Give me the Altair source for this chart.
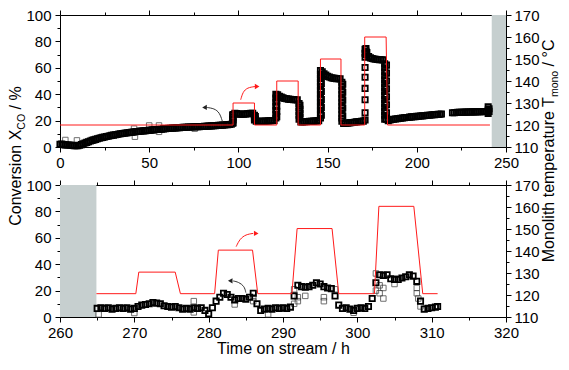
import altair as alt
import pandas as pd

FONT = "Liberation Sans"
RED = "#ff1a1a"
GREY = "#c6cfcf"
W, H = 446, 132

# ---------------- top panel: 0-250 h ----------------
drift_t = [0, 1, 2, 3, 4, 5, 6, 7, 8, 9, 10, 11, 12, 13, 14, 15, 16, 17, 18, 19,
           20, 21, 22, 23, 24, 25, 26, 27, 28, 29, 30, 31, 32, 33, 34, 35, 36, 37, 38, 39,
           40, 41, 42, 43, 44, 45, 46, 47, 48, 49, 50, 51, 52, 53, 54, 55, 56, 57, 58, 59,
           60, 61, 62, 63, 64, 65, 66, 67, 68, 69, 70, 71, 72, 73, 74, 75, 76, 77, 78, 79,
           80, 81, 82, 83, 84, 85, 86, 87, 88, 89, 90, 91, 92, 93, 94, 95, 96]
drift_x = [2.0, 2.2, 1.8, 1.6, 1.5, 1.5, 1.3, 1.2, 1.0, 1.0, 1.0, 1.3, 1.8, 2.4, 3.0, 3.5, 4.0, 4.5, 5.0, 5.4,
           5.8, 6.2, 6.6, 7.0, 7.3, 7.6, 7.9, 8.2, 8.5, 8.8, 9.0, 9.3, 9.5, 9.8, 10.0, 10.2, 10.4, 10.6, 10.8, 11.0,
           11.2, 11.3, 11.5, 11.7, 11.8, 12.0, 12.1, 12.2, 12.4, 12.5, 12.6, 12.8, 13.0, 13.1, 13.2, 13.3, 13.4, 13.5, 13.7, 13.8,
           14.0, 14.1, 14.2, 14.3, 14.4, 14.5, 14.6, 14.7, 14.8, 14.9, 15.0, 15.0, 15.1, 15.2, 15.2, 15.3, 15.3, 15.4, 15.4, 15.5,
           15.5, 15.6, 15.7, 15.8, 15.9, 16.0, 16.1, 16.2, 16.3, 16.4, 16.5, 16.6, 16.7, 16.8, 16.9, 17.0, 17.2]

step1_t = [96.8, 96.8, 96.8, 97, 97, 97, 97, 98, 99, 100, 101, 102, 103, 104, 105, 106, 107, 108,
           109, 109, 109, 109.5, 109.5]
step1_x = [18, 21, 24, 18.5, 20.5, 22.5, 24.5, 25.5, 25.3, 25.0, 24.8, 24.8, 24.9, 25.0, 25.2, 25.3, 25.5, 25.6,
           24, 22, 20.5, 23, 21]

base1_t = [110, 111, 112, 113, 114, 115, 116, 117, 118, 119, 120]
base1_x = [19.5, 19.4, 19.4, 19.5, 19.5, 19.6, 19.7, 19.8, 19.9, 20.0, 20.1]

step2_t = [121, 121, 121, 121, 121, 121, 121, 121.5, 121.5, 121.5, 121.5, 121.5,
           122, 123, 124, 125, 126, 127, 128, 129, 130, 131, 132, 133,
           134, 134, 134, 134, 134, 134.5, 134.5, 134.5, 134.5]
step2_x = [22, 25, 28, 31, 34, 37, 40, 23, 27, 31, 35, 39,
           39.5, 38.5, 37.8, 37.2, 36.8, 36.5, 36.3, 36.1, 36.0, 35.9, 35.8, 35.7,
           33, 30, 27, 24, 21, 31.5, 28.5, 25.5, 22.5]

base2_t = [135, 136, 137, 138, 139, 140, 141, 142, 143, 144, 145]
base2_x = [19.0, 19.0, 19.1, 19.2, 19.3, 19.4, 19.5, 19.6, 19.7, 19.8, 20.0]

step3_t = [146, 146, 146, 146, 146, 146, 146, 146, 146, 146, 146, 146, 146,
           146.5, 146.5, 146.5, 146.5, 146.5, 146.5,
           147, 148, 149, 150, 151, 152, 153, 154, 155, 156, 157,
           158, 158, 158, 158, 158, 158, 158, 158, 158, 158, 158,
           158.5, 158.5, 158.5, 158.5, 158.5]
step3_x = [22, 25, 28, 31, 34, 37, 40, 43, 46, 49, 52, 55, 58,
           24, 30, 36, 42, 48, 54,
           57.0, 55.5, 54.5, 53.5, 53.0, 52.5, 52.2, 52.0, 51.8, 51.7, 51.6,
           49, 46, 43, 40, 37, 34, 31, 28, 25, 22, 19.5,
           47.5, 41.5, 35.5, 29.5, 23.5]

base3_t = [159, 160, 161, 162, 163, 164, 165, 166, 167, 168, 169, 170]
base3_x = [17.8, 18.0, 18.1, 18.3, 18.5, 18.6, 18.8, 19.0, 19.1, 19.3, 19.5, 19.6]

step4_t = [171, 171, 171, 171, 171, 171, 171, 171, 171, 171.5, 171.5, 171.5,
           172, 173, 174, 175, 176, 177, 178, 179, 180, 181,
           182, 182, 182, 182, 182, 182, 182, 182, 182, 182, 182, 182, 182, 182, 182,
           183, 183, 183, 183, 183, 183, 183, 183]
step4_x = [20.5, 26, 35.8, 44.4, 52.9, 60.2, 68, 71, 74, 74.5, 72.5, 70,
           71.5, 68.5, 67.5, 67.0, 66.7, 66.5, 66.3, 66.2, 66.1, 66.0,
           63, 60, 57, 54, 51, 48, 45, 42, 39, 36, 33, 30, 27, 24, 21,
           62, 56, 50, 44, 38, 32, 26, 21]

late1_t = [184, 185, 186, 187, 188, 189, 190, 191, 192, 193, 194, 195, 196, 197, 198, 199,
           200, 201, 202, 203, 204, 205, 206, 207, 208, 209, 210, 211, 212, 213, 213.8]
late1_x = [20.0, 20.5, 20.8, 21.0, 21.2, 21.4, 21.6, 21.8, 22.0, 22.1, 22.3, 22.4, 22.6, 22.8, 22.9, 23.0,
           23.2, 23.3, 23.5, 23.6, 23.7, 23.9, 24.0, 24.1, 24.2, 24.4, 24.5, 24.6, 24.7, 24.8, 25.0]

late2_t = [220, 221, 222, 223, 224, 225, 226, 227, 228, 229, 230, 231, 232, 233, 234, 235,
           236, 237, 238, 239, 240, 240, 240, 240.5, 240.5]
late2_x = [26.0, 26.0, 26.1, 26.2, 26.2, 26.3, 26.3, 26.4, 26.4, 26.5, 26.5, 26.6, 26.6, 26.6, 26.7, 26.7,
           26.8, 26.8, 26.9, 26.9, 25.5, 28, 30.5, 27, 29]

top_out_t = [3, 9.5, 41.5, 42, 50, 55.5, 55.5, 75.5]
top_out_x = [5.3, 5.0, 13.9, 7.8, 16.3, 16.3, 11.5, 13.9]

top_temp_t = [0, 97, 97, 109, 109, 121.5, 121.5, 133.5, 133.5, 146, 146, 157.5, 157.5,
              170.8, 170.8, 182.8, 183.6, 241]
top_temp_T = [120, 120, 130, 130, 120, 120, 140, 140, 120, 120, 150, 150, 120,
              120, 160, 160, 120, 120]

top_shade_t0 = [242]
top_shade_t1 = [250]

top_black_arrow_t = [91, 89.5, 86.5, 82]
top_black_arrow_x = [19.5, 26, 29.2, 30]
top_black_head_t = [81]
top_black_head_x = [30]
top_red_arrow_t = [101.3, 102.5, 105, 109.5]
top_red_arrow_T = [131.5, 135, 137, 137.5]
top_red_head_t = [110.5]
top_red_head_T = [137.5]

# ---------------- bottom panel: 260-320 h ----------------
bot_t = [265.0, 265.5, 266.0, 266.5, 267.0, 267.5, 268.0, 268.5, 269.0, 269.5,
         270.0, 270.5, 271.0, 271.5, 272.0, 272.5, 273.0, 273.5, 274.0, 274.5,
         275.0, 275.5, 276.0, 276.5, 277.0, 277.5, 278.0, 278.5, 279.0, 279.5,
         280.0, 280.5, 281.0, 281.5, 282.0, 282.5, 283.0, 283.5, 284.0, 284.5,
         285.0, 285.5, 286.0, 286.5, 287.0, 287.5, 288.0, 288.5, 289.0, 289.5,
         290.0, 290.5, 291.0, 291.5, 292.0, 292.5, 293.0, 293.5, 294.0, 294.5,
         295.0, 295.5, 296.0, 296.5, 297.0, 297.5, 298.0, 298.5, 299.0, 299.5,
         300.0, 300.5, 301.0, 301.5, 302.0, 302.5, 303.0, 303.5, 304.0, 304.5,
         305.0, 305.5, 306.0, 306.5, 307.0, 307.5, 308.0, 308.5, 309.0, 309.5,
         310.0, 310.5, 310.8]
bot_x = [6.5, 7.0, 6.5, 7.0, 6.0, 6.5, 7.0, 6.5, 7.0, 6.0,
         6.5, 8.0, 9.0, 9.5, 10.0, 11.0, 10.5, 10.0, 8.5, 8.0,
         7.5, 8.0, 7.0, 6.0, 6.5, 6.0, 7.0, 6.5, 7.0, 5.0,
         2.5, 7.0, 12.0, 15.0, 18.0, 17.0, 15.0, 13.0, 14.0, 14.0,
         13.5, 15.0, 18.0, 10.0, 5.0, 6.0, 6.5, 6.0, 7.0, 6.5,
         7.0, 6.5, 7.5, 16.0, 24.0, 23.0, 22.5, 23.0, 24.0, 26.0,
         25.0, 23.0, 22.0, 21.5, 16.0, 9.0, 6.5, 7.0, 6.0, 5.0,
         6.5, 7.0, 6.5, 8.0, 14.0, 26.0, 32.0, 31.5, 32.0, 29.0,
         28.5, 28.5, 29.5, 30.5, 32.0, 31.0, 27.0, 12.0, 6.0, 6.5,
         7.0, 7.5, 8.0]

bot_out_t = [265.2, 270.0, 278.0, 278.0, 283.5, 286.0, 286.0, 288.0, 291.5, 291.5,
             292.0, 292.0, 293.0, 295.5, 295.5, 297.0, 299.5, 302.5, 302.5, 303.0,
             303.0, 303.5, 303.5, 305.0, 308.0, 308.0, 308.2, 308.5]
bot_out_x = [2.0, 3.0, 12.0, 3.5, 9.5, 12.0, 15.0, 2.0, 10.0, 21.0,
             12.0, 15.0, 16.0, 15.0, 12.0, 21.0, 3.2, 20.0, 33.0, 24.0,
             18.0, 22.0, 14.0, 25.0, 22.0, 18.0, 14.0, 8.0]

bot_temp_t = [264.9, 270.2, 270.6, 275.5, 276.2, 280.8, 281.3, 285.9, 286.6,
              291.2, 291.9, 296.6, 297.5, 302.3, 302.9, 307.6, 308.8, 310.8]
bot_temp_T = [120.6, 120.6, 130.4, 130.4, 120.6, 120.6, 140.4, 140.4, 120.6,
              120.6, 150.2, 150.2, 120.6, 120.6, 160.3, 160.3, 120.6, 120.6]

bot_shade_t0 = [260]
bot_shade_t1 = [264.9]

bot_black_arrow_t = [285.0, 284.8, 284.0, 283.3]
bot_black_arrow_x = [18.5, 23.5, 26.5, 27.3]
bot_black_head_t = [282.9]
bot_black_head_x = [27.4]
bot_red_arrow_t = [283.7, 284.2, 285.0, 286.0]
bot_red_arrow_T = [142, 145.5, 147.5, 148]
bot_red_head_t = [286.4]
bot_red_head_T = [148]

# ---------------- texts ----------------
left_title = ["Conversion X", "CO", "/ %"]
right_title = ["Monolith temperature T", "mono", "/ °C"]
x_title = "Time on stream / h"

conv_ticks = [0, 10, 20, 30, 40, 50, 60, 70, 80, 90, 100]
temp_ticks = [110, 115, 120, 125, 130, 135, 140, 145, 150, 155, 160, 165, 170]
top_x_ticks = [0, 25, 50, 75, 100, 125, 150, 175, 200, 225, 250]
bot_x_ticks = [260, 265, 270, 275, 280, 285, 290, 295, 300, 305, 310, 315, 320]


def df(t, v):
    return pd.DataFrame({"t": t, "v": v, "i": list(range(len(t)))})


def tick_size(major):
    return {"condition": {"test": f"datum.value % {major} === 0", "value": 5}, "value": 3}


def label_expr(major):
    return f"datum.value % {major} === 0 ? datum.label : ''"


def panel(conv, outl, temp, shade, barrow, bhead, rarrow, rhead,
          xdom, xvals, xmajor, xtitle, with_titles):
    xs = alt.Scale(domain=xdom, nice=False, zero=False)
    ax_b = alt.Axis(orient="bottom", values=xvals, labelExpr=label_expr(xmajor),
                    tickSize=tick_size(xmajor), labelPadding=3, labelFlush=False,
                    labelOverlap=False, title=xtitle, titlePadding=0)
    ax_t = alt.Axis(orient="top", values=xvals, labels=False,
                    tickSize=tick_size(xmajor), title="")
    yc = alt.Scale(domain=[0, 100], nice=False, zero=False)
    yt = alt.Scale(domain=[110, 170], nice=False, zero=False)
    ay_l = alt.Axis(orient="left", values=conv_ticks, labelExpr=label_expr(20),
                    tickSize=tick_size(20), labelPadding=4, labelOverlap=False,
                    labelFlush=False, title="")
    ay_r = alt.Axis(orient="right", values=temp_ticks, labelExpr=label_expr(10),
                    tickSize=tick_size(10), labelPadding=3, labelOverlap=False,
                    labelFlush=False, title="")

    def xb(f):
        return alt.X(f"{f}:Q", scale=xs, axis=ax_b)

    def xt(f):
        return alt.X(f"{f}:Q", scale=xs, axis=ax_t)

    def yl(f):
        return alt.Y(f"{f}:Q", scale=yc, axis=ay_l)

    def yr(f):
        return alt.Y(f"{f}:Q", scale=yt, axis=ay_r)

    shade_ch = alt.Chart(shade).mark_rect(color=GREY).encode(
        x=xb("t0"), x2="t1:Q", y=alt.value(0), y2=alt.value(H))
    outs = alt.Chart(outl).mark_point(shape="square", filled=False, size=30,
                                      strokeWidth=1, color="#333333").encode(
        x=xb("t"), y=yl("v"))
    pts = alt.Chart(conv).mark_point(shape="square", filled=False, size=28,
                                     strokeWidth=1.8, color="#000000", opacity=1).encode(
        x=xb("t"), y=yl("v"))
    barr = alt.Chart(barrow).mark_line(color="#333333", strokeWidth=1,
                                       interpolate="basis").encode(
        x=xb("t"), y=yl("v"), order="i:Q")
    bhd = alt.Chart(bhead).mark_point(shape="triangle-left", filled=True, size=28,
                                      color="#222222", opacity=1).encode(
        x=xb("t"), y=yl("v"))
    layers_a = [shade_ch, outs, pts, barr, bhd]

    if with_titles:
        one = pd.DataFrame({"k": [0]})
        tstyle = dict(font=FONT, color="black", angle=270, baseline="alphabetic")
        layers_a += [
            alt.Chart(one).mark_text(text=left_title[0], align="right", fontSize=16, **tstyle)
            .encode(x=alt.value(-39), y=alt.value(114.7)),
            alt.Chart(one).mark_text(text=left_title[1], align="left", fontSize=10.5, **tstyle)
            .encode(x=alt.value(-35.5), y=alt.value(114.7)),
            alt.Chart(one).mark_text(text=left_title[2], align="left", fontSize=16, **tstyle)
            .encode(x=alt.value(-39), y=alt.value(94.5)),
            alt.Chart(one).mark_text(text=right_title[0], align="right", fontSize=16, **tstyle)
            .encode(x=alt.value(494), y=alt.value(82.1)),
            alt.Chart(one).mark_text(text=right_title[1], align="left", fontSize=10.5, **tstyle)
            .encode(x=alt.value(497.5), y=alt.value(82.1)),
            alt.Chart(one).mark_text(text=right_title[2], align="left", fontSize=16, **tstyle)
            .encode(x=alt.value(494), y=alt.value(51.4)),
        ]

    layer_a = alt.layer(*layers_a)

    red = alt.Chart(temp).mark_line(color=RED, strokeWidth=1).encode(
        x=xt("t"), y=yr("v"), order="i:Q")
    rarr = alt.Chart(rarrow).mark_line(color=RED, strokeWidth=1, interpolate="basis").encode(
        x=xt("t"), y=yr("v"), order="i:Q")
    rhd = alt.Chart(rhead).mark_point(shape="triangle-right", filled=True, size=28,
                                      color=RED, opacity=1).encode(
        x=xt("t"), y=yr("v"))
    layer_b = alt.layer(red, rarr, rhd)

    return (alt.layer(layer_a, layer_b)
            .resolve_scale(y="independent")
            .resolve_axis(x="independent", y="independent")
            .properties(width=W, height=H))


top_conv = pd.concat([df(drift_t, drift_x), df(step1_t, step1_x), df(base1_t, base1_x),
                      df(step2_t, step2_x), df(base2_t, base2_x), df(step3_t, step3_x),
                      df(base3_t, base3_x), df(step4_t, step4_x), df(late1_t, late1_x),
                      df(late2_t, late2_x)], ignore_index=True)

top = panel(top_conv, df(top_out_t, top_out_x), df(top_temp_t, top_temp_T),
            pd.DataFrame({"t0": top_shade_t0, "t1": top_shade_t1}),
            df(top_black_arrow_t, top_black_arrow_x), df(top_black_head_t, top_black_head_x),
            df(top_red_arrow_t, top_red_arrow_T), df(top_red_head_t, top_red_head_T),
            [0, 250], top_x_ticks, 50, "", True)

bottom = panel(df(bot_t, bot_x), df(bot_out_t, bot_out_x), df(bot_temp_t, bot_temp_T),
               pd.DataFrame({"t0": bot_shade_t0, "t1": bot_shade_t1}),
               df(bot_black_arrow_t, bot_black_arrow_x), df(bot_black_head_t, bot_black_head_x),
               df(bot_red_arrow_t, bot_red_arrow_T), df(bot_red_head_t, bot_red_head_T),
               [260, 320], bot_x_ticks, 10, x_title, False)

chart = (alt.vconcat(top, bottom, spacing=38, bounds="flush")
         .properties(padding=0, background="white")
         .configure_view(strokeWidth=0)
         .configure_axis(labelFont=FONT, labelFontSize=15, labelColor="black",
                         titleFont=FONT, titleFontSize=16, titleFontWeight="normal",
                         titleColor="black", domainColor="black", tickColor="black",
                         domainWidth=1, tickWidth=1, grid=False))

chart.save("out.html", embed_options={"renderer": "svg", "actions": False})
